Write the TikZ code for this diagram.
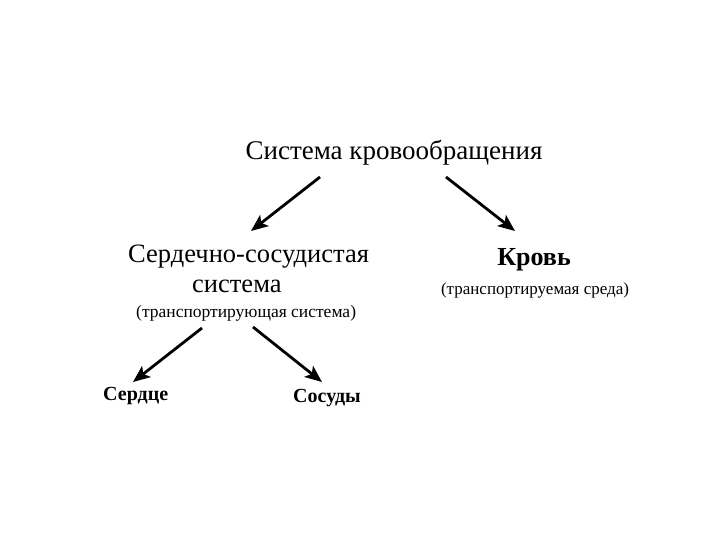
\documentclass[tikz,border=0pt]{standalone}
\usepackage{fontspec}
\setmainfont{Liberation Serif}
\usetikzlibrary{positioning, calc, arrows.meta}

\begin{document}
\begin{tikzpicture}[x=1pt, y=-1pt,
                caption/.style={inner sep=0pt, font=\fontsize{27}{32}\selectfont},
                part/.style={inner sep=0pt, font=\fontsize{26.5}{30}\selectfont},
                note/.style={inner sep=0pt, font=\fontsize{17.5}{20}\selectfont},
                leaf/.style={inner sep=0pt, font=\bfseries\fontsize{20}{24}\selectfont},
                link/.style={line width=2.8pt, -{Stealth[length=17pt, width=14pt, inset=4pt]}}
            ]
            \useasboundingbox[fill=white] (0,0) rectangle (720,540);

            % Knoten
            \node[caption, anchor=base] (system) at (394,160) {Система кровообращения};
            \node[part, anchor=north west, align=left] (cvs) at (128,245) {Сердечно-сосудистая\\\hspace*{64pt}система};
            \node[note, anchor=base west] (carrier) at (136,317) {(транспортирующая система)};
            \node[part, font=\bfseries\fontsize{26}{30}\selectfont, anchor=base] (blood) at (534,265) {Кровь};
            \node[note, font=\fontsize{17}{20}\selectfont, anchor=base] (medium) at (535,294) {(транспортируемая среда)};
            \node[leaf, anchor=base west] (heart) at (103,400) {Сердце};
            \node[leaf, anchor=base west] (vessels) at (293,402) {Сосуды};

            % Pfeile
            \draw[link] ($(system.base)+(-74,17)$) -- ($(cvs.north west)+(123,-14)$);
            \draw[link] ($(system.base)+(52,17)$) -- ($(blood.base)+(-19,-34)$);
            \draw[link] ($(carrier.base west)+(66,11)$) -- ($(heart.base west)+(30,-18)$);
            \draw[link] ($(carrier.base west)+(117,10)$) -- ($(vessels.base west)+(29,-20)$);
        \end{tikzpicture}
\end{document}
